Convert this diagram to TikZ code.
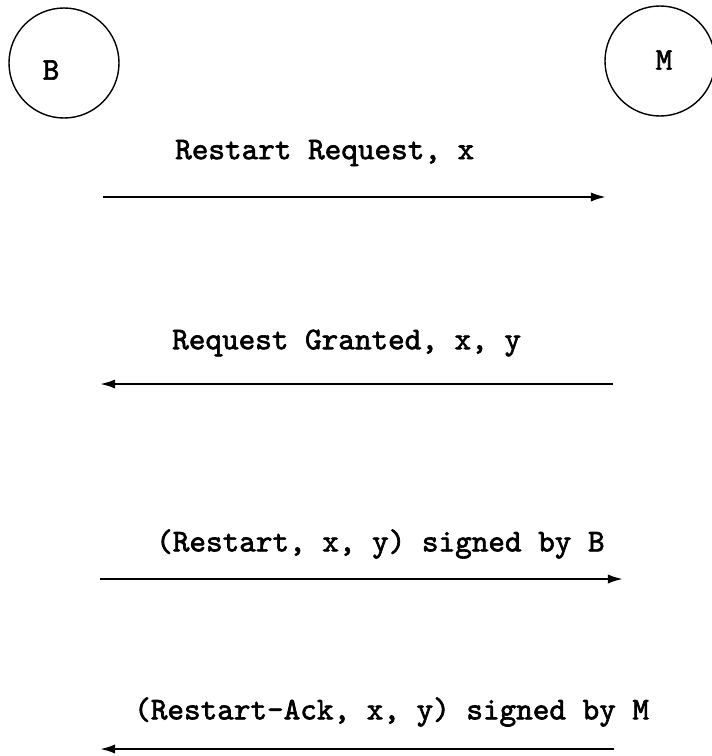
\documentclass[tikz,border=0pt]{standalone}
\usepackage{fontspec}
\usepackage{tikz}
\usetikzlibrary{arrows.meta}

\newfontfamily\msgfont{lmmono10-regular.otf}[FakeBold=2]

\tikzset{
	party/.style={draw, circle, line width=1.2pt, minimum size=3.3cm, inner sep=0pt},
	partyname/.style={inner sep=0pt, font=\msgfont\fontsize{27}{32}\selectfont},
	msg/.style={inner sep=0pt, anchor=west, font=\msgfont\fontsize{27}{32}\selectfont},
	msgline/.style={line width=1.9pt, -{Latex[length=13pt,width=8pt]}}
}

\begin{document}
\begin{tikzpicture}[x=0.03cm,y=-0.03cm]
	\useasboundingbox (0,0) rectangle (712,756);
	\node[party] (Bc) at (64,63) {};
	\node[partyname] (B) at (51,70) {B};
	\node[party] (Mc) at (660,61) {};
	\node[partyname] (M) at (664,60) {M};
	% messages
	\node[msg] (req) at (175,153) {Restart Request, x};
	\node[msg] (grant) at (172,343) {Request Granted, x, y};
	\node[msg] (restart) at (156,544) {(Restart, x, y) signed by B};
	\node[msg] (ack) at (134,712) {(Restart-Ack, x, y) signed by M};
	\coordinate (req-b) at (103,197);
	\coordinate (req-m) at (606,197);
	\coordinate (grant-m) at (613,384);
	\coordinate (grant-b) at (100,384);
	\coordinate (restart-b) at (100,579);
	\coordinate (restart-m) at (623,579);
	\coordinate (ack-m) at (614,749);
	\coordinate (ack-b) at (100,749);
	\draw[msgline] (req-b) -- (req-m);
	\draw[msgline] (grant-m) -- (grant-b);
	\draw[msgline] (restart-b) -- (restart-m);
	\draw[msgline] (ack-m) -- (ack-b);
\end{tikzpicture}
\end{document}
